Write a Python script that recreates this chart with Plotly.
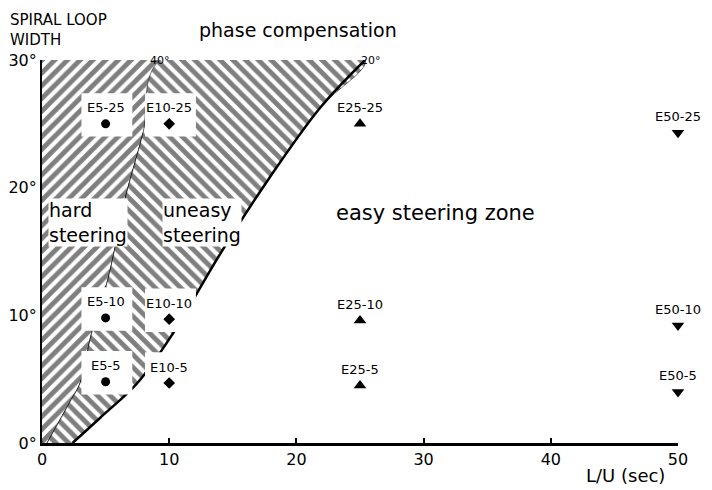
import plotly.graph_objects as go

# ---- data ----
lu_values = [5, 10, 25, 50]
series_names = ["E5", "E10", "E25", "E50"]
series_symbols = ["circle", "diamond", "triangle-up", "triangle-down"]
width_25 = [25, 25, 25, 24.3]
width_10 = [9.8, 9.7, 9.6, 9.2]
width_5 = [4.8, 4.7, 4.5, 4.0]
width_suffix = ["25", "10", "5"]

# boundary hard / uneasy steering (40 deg phase compensation)
b40_x = [0.4, 2.3, 3.0, 3.9, 5.1, 5.7, 6.5, 7.9, 9.3]
b40_y = [0, 3.4, 4.7, 8.6, 12.5, 15.1, 19, 24.1, 30]
# boundary uneasy / easy steering (20 deg phase compensation)
b20_x = [2.4, 4.6, 7.5, 10.3, 14.0, 17.9, 21.9, 25.4]
b20_y = [0, 2.0, 4.7, 8.6, 14.8, 20.8, 26.3, 30]

x_ticks = [0, 10, 20, 30, 40, 50]
y_ticks = [0, 10, 20, 30]
y_ticktext = ["0°", "10°", "20°", "30°"]

FONT = "DejaVu Sans"
fig = go.Figure()

# hard steering region
fig.add_trace(go.Scatter(
    x=[0, 0] + b40_x[::-1], y=[0, 30] + b40_y[::-1],
    fill="toself", mode="lines", line=dict(color="black", width=1, shape="spline"),
    fillcolor="white",
    fillpattern=dict(shape="/", fgcolor="black", bgcolor="white", size=9, solidity=0.55),
    hoverinfo="skip", showlegend=False))

# uneasy steering region
fig.add_trace(go.Scatter(
    x=b40_x + b20_x[::-1], y=b40_y + b20_y[::-1],
    fill="toself", mode="lines", line=dict(color="black", width=0.5, shape="spline"),
    fillcolor="white",
    fillpattern=dict(shape="\\", fgcolor="black", bgcolor="white", size=9, solidity=0.55),
    hoverinfo="skip", showlegend=False))

# outer boundary line
fig.add_trace(go.Scatter(x=b20_x, y=b20_y, mode="lines",
                         line=dict(color="black", width=2.5, shape="spline"),
                         hoverinfo="skip", showlegend=False))

# white label boxes around points
bx, by = [], []
for xv, ys in zip(lu_values, zip(width_25, width_10, width_5)):
    for yv in ys:
        if xv > 12:
            continue
        bx += [xv - 1.9, xv + 2.1, xv + 2.1, xv - 1.9, xv - 1.9, None]
        by += [yv - 1.0, yv - 1.0, yv + 2.4, yv + 2.4, yv - 1.0, None]
fig.add_trace(go.Scatter(x=bx, y=by, fill="toself", mode="none",
                         fillcolor="white", hoverinfo="skip", showlegend=False))

# points
for i, name in enumerate(series_names):
    ys = [width_25[i], width_10[i], width_5[i]]
    fig.add_trace(go.Scatter(
        x=[lu_values[i]] * 3, y=ys, mode="markers", cliponaxis=False,
        marker=dict(symbol=series_symbols[i], color="black",
                    size=9 if i < 2 else 11),
        showlegend=False))
    for yv, suf in zip(ys, width_suffix):
        fig.add_annotation(x=lu_values[i], y=yv, yshift=16,
                           text=f"{name}-{suf}", showarrow=False,
                           font=dict(family=FONT, size=13, color="black"))

annots = [
    dict(text="SPIRAL LOOP<br>WIDTH", xref="paper", yref="paper", x=-0.053, y=1.134,
         xanchor="left", yanchor="top", align="left", size=15),
    dict(text="phase compensation", xref="paper", yref="paper", x=0.402, y=1.078,
         xanchor="center", yanchor="middle", size=19),
    dict(text="40°", xref="x", yref="y", x=9.3, y=30, yshift=13,
         xanchor="center", yanchor="middle", size=11),
    dict(text="20°", xref="x", yref="y", x=25.9, y=30, yshift=10,
         xanchor="center", yanchor="middle", size=11),
    dict(text="easy steering zone", xref="x", yref="y", x=30.9, y=18.0,
         xanchor="center", yanchor="middle", size=21),
    dict(text="L/U (sec)", xref="paper", yref="paper", x=0.918, y=-0.085,
         xanchor="center", yanchor="middle", size=18),
]
for a in annots:
    fig.add_annotation(text=a["text"], xref=a["xref"], yref=a["yref"], x=a["x"], y=a["y"],
                       xanchor=a["xanchor"], yanchor=a["yanchor"], align=a.get("align", "center"),
                       showarrow=False,
                       font=dict(family=FONT, size=a["size"], color="black"))

for txt, xv in [("hard<br>steering", 3.6), ("uneasy<br>steering", 12.6)]:
    fig.add_annotation(text=txt, x=xv, y=17.3, showarrow=False, align="left",
                       bgcolor="white", borderpad=0,
                       font=dict(family=FONT, size=19, color="black"))

fig.update_xaxes(range=[0, 50], tickvals=x_ticks, showgrid=False, zeroline=False,
                 showline=True, linecolor="black", linewidth=3, automargin=False,
                 ticks="inside", ticklen=5, tickcolor="black", tickwidth=1.5,
                 tickfont=dict(family=FONT, size=16, color="black"))
fig.update_yaxes(range=[0, 30], tickvals=y_ticks, ticktext=y_ticktext, showgrid=False,
                 zeroline=False, showline=True, linecolor="black", linewidth=2,
                 automargin=False, ticks="",
                 tickfont=dict(family=FONT, size=16, color="black"))

# page body has an 8px margin, so the figure is sized to fill the rest of the window
fig.update_layout(width=704, height=482, margin=dict(l=34, r=34, t=52, b=47),
                  plot_bgcolor="white", paper_bgcolor="white")

fig.write_html("out.html")
